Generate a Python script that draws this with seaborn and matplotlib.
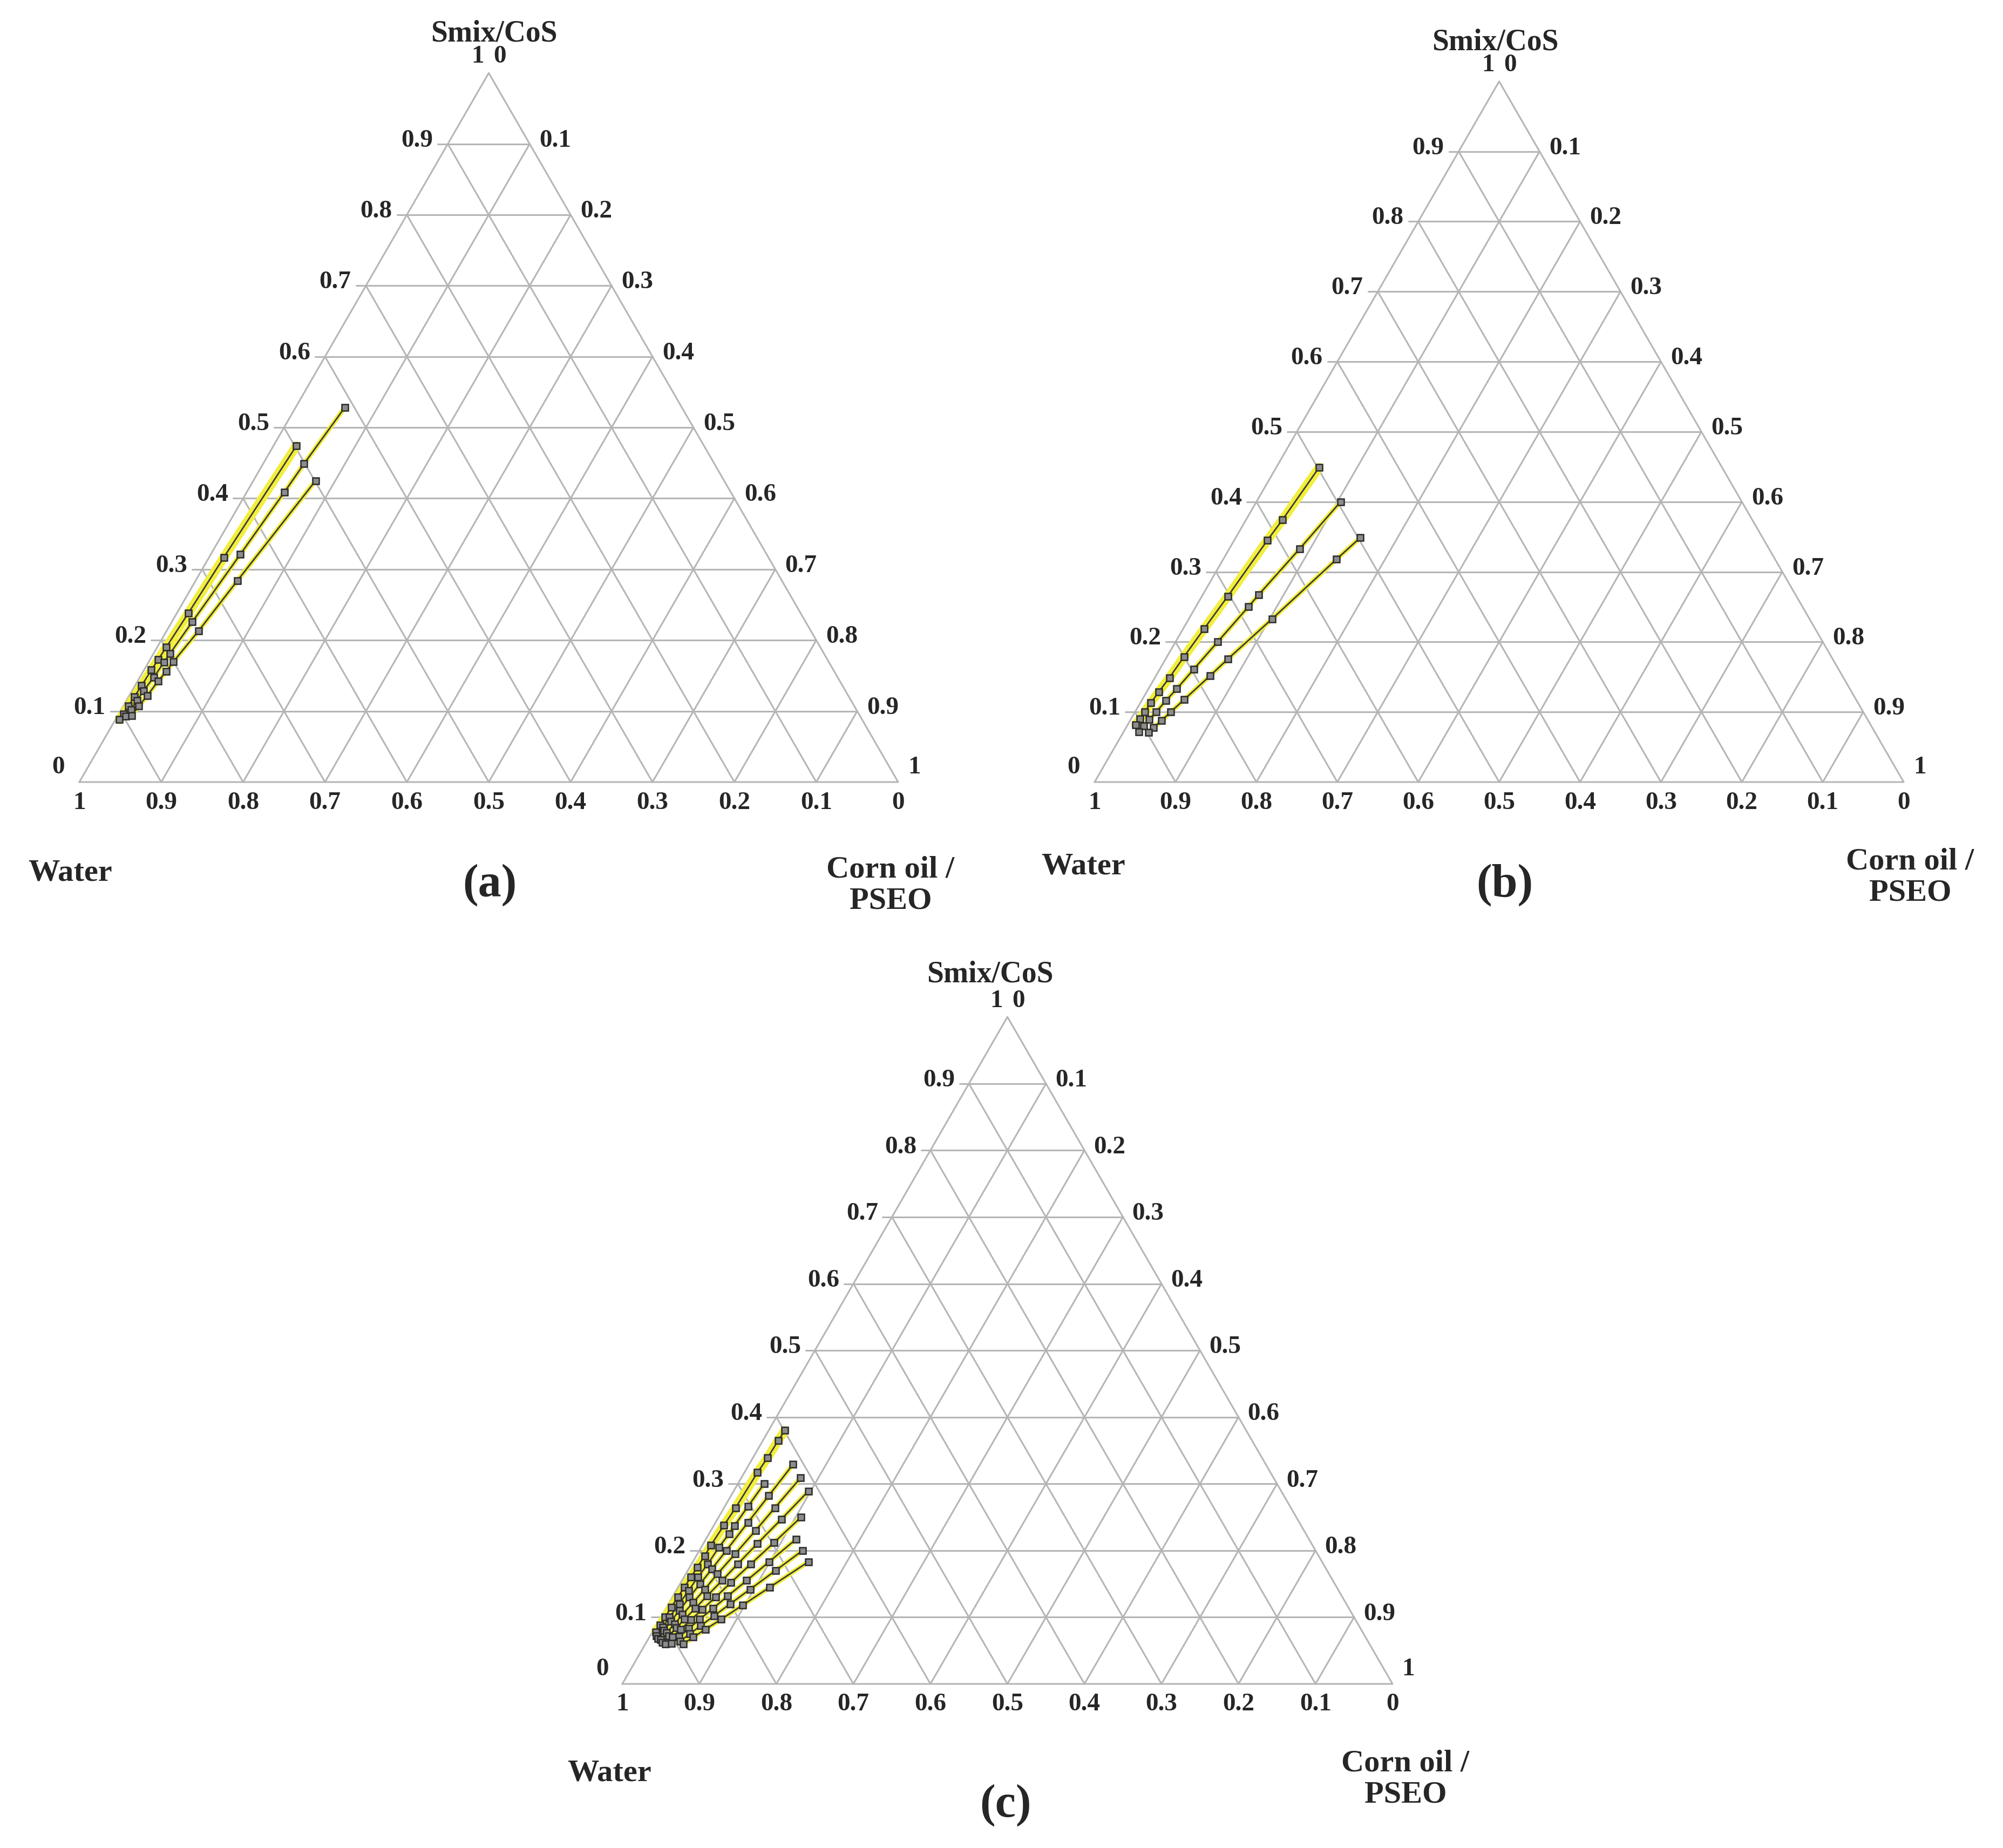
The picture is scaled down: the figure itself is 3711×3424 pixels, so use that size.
import matplotlib
matplotlib.use('Agg')
import matplotlib.pyplot as plt
import seaborn as sns
import numpy as np
import pandas as pd

W, H = 3711, 3424

# titration lines: Smix/CoS fraction and oil fraction per point
a_smix = [
    [0.474, 0.317, 0.238, 0.19, 0.173, 0.158, 0.136, 0.12, 0.107, 0.096, 0.088],
    [0.528, 0.449, 0.409, 0.321, 0.226, 0.181, 0.169, 0.148, 0.129, 0.115, 0.102, 0.093],
    [0.425, 0.284, 0.213, 0.17, 0.156, 0.142, 0.122, 0.107, 0.094],
]
a_oil = [
    [0.028, 0.018, 0.014, 0.011, 0.010, 0.009, 0.008, 0.007, 0.0063, 0.0059, 0.005],
    [0.060, 0.050, 0.046, 0.036, 0.025, 0.020, 0.019, 0.017, 0.014, 0.013, 0.012, 0.010],
    [0.076, 0.051, 0.039, 0.030, 0.028, 0.025, 0.022, 0.019, 0.017],
]
b_smix = [
    [0.449, 0.374, 0.345, 0.265, 0.219, 0.179, 0.149, 0.129, 0.113, 0.1, 0.09, 0.082],
    [0.4, 0.333, 0.267, 0.25, 0.2, 0.161, 0.133, 0.116, 0.1, 0.089, 0.08, 0.072],
    [0.349, 0.318, 0.233, 0.176, 0.152, 0.118, 0.1, 0.088, 0.078, 0.071],
]
b_oil = [
    [0.053, 0.045, 0.041, 0.032, 0.026, 0.021, 0.018, 0.015, 0.013, 0.012, 0.011, 0.010],
    [0.104, 0.087, 0.069, 0.065, 0.052, 0.042, 0.035, 0.030, 0.026, 0.023, 0.021, 0.019],
    [0.154, 0.140, 0.103, 0.077, 0.067, 0.052, 0.044, 0.039, 0.034, 0.031],
]
c_smix = [
    [0.38, 0.365, 0.339, 0.317, 0.264, 0.238, 0.208, 0.192, 0.175, 0.16, 0.145, 0.13, 0.115, 0.1, 0.088, 0.078],
    [0.30, 0.266, 0.237, 0.225, 0.205, 0.18, 0.16, 0.14, 0.12, 0.1, 0.085, 0.072],
    [0.329, 0.282, 0.242, 0.2, 0.172, 0.15, 0.13, 0.11, 0.094, 0.08, 0.068],
    [0.309, 0.264, 0.23, 0.195, 0.165, 0.142, 0.122, 0.104, 0.09, 0.077, 0.066],
    [0.289, 0.247, 0.21, 0.18, 0.155, 0.132, 0.113, 0.097, 0.084, 0.072, 0.062],
    [0.25, 0.212, 0.18, 0.152, 0.13, 0.112, 0.096, 0.082, 0.07, 0.06],
    [0.217, 0.183, 0.155, 0.132, 0.113, 0.097, 0.083, 0.071, 0.061],
    [0.2, 0.17, 0.142, 0.12, 0.102, 0.087, 0.075, 0.064],
    [0.183, 0.145, 0.118, 0.097, 0.082, 0.07, 0.06],
]
c_oil = [
    [0.021, 0.020, 0.019, 0.017, 0.015, 0.013, 0.011, 0.011, 0.010, 0.009, 0.008, 0.007, 0.006, 0.0055, 0.005, 0.0043],
    [0.034, 0.030, 0.027, 0.026, 0.023, 0.021, 0.018, 0.016, 0.014, 0.011, 0.010, 0.008],
    [0.057, 0.049, 0.042, 0.035, 0.030, 0.026, 0.022, 0.019, 0.016, 0.014, 0.012],
    [0.077, 0.066, 0.058, 0.049, 0.041, 0.036, 0.031, 0.026, 0.023, 0.019, 0.017],
    [0.097, 0.083, 0.070, 0.060, 0.052, 0.044, 0.038, 0.032, 0.028, 0.024, 0.021],
    [0.107, 0.091, 0.077, 0.065, 0.056, 0.048, 0.041, 0.035, 0.030, 0.026],
    [0.117, 0.099, 0.084, 0.071, 0.061, 0.052, 0.045, 0.038, 0.033],
    [0.134, 0.114, 0.095, 0.080, 0.068, 0.058, 0.050, 0.043],
    [0.150, 0.119, 0.097, 0.080, 0.067, 0.057, 0.049],
]
ticks = [round(0.1 * i, 1) for i in range(11)]
tick_labels = ['0', '0.1', '0.2', '0.3', '0.4', '0.5', '0.6', '0.7', '0.8', '0.9', '1']

# panel geometry: left vertex (px), side length (px), panel letter
panels = [
    dict(L=(147, 1449), side=1517, letter='(a)', smix=a_smix, oil=a_oil,
         title=(915, 62), water=(130, 1617), corn=(1650, 1640), tag=(907, 1640)),
    dict(L=(2028, 1449), side=1499, letter='(b)', smix=b_smix, oil=b_oil,
         title=(2770, 78), water=(2007, 1605), corn=(3539, 1625), tag=(2788, 1640)),
    dict(L=(1153, 3120), side=1427, letter='(c)', smix=c_smix, oil=c_oil,
         title=(1834, 1805), water=(1129, 3285), corn=(2604, 3297), tag=(1863, 3345)),
]

sns.set_style("white")
plt.rcParams['font.family'] = ['Liberation Serif', 'DejaVu Serif']

fig = plt.figure(figsize=(W / 200, H / 200), dpi=200)
ax = fig.add_axes([0, 0, 1, 1])
ax.set_xlim(0, W)
ax.set_ylim(H, 0)
ax.axis('off')

R3 = np.sqrt(3) / 2
GRID = '#b5b5b5'
tfs = 17


def make_xy(p):
    Lx, Ly = p['L']
    s = p['side']
    def f(smix, oil):
        smix = np.asarray(smix, float)
        oil = np.asarray(oil, float)
        return Lx + (oil + smix / 2) * s, Ly - smix * R3 * s
    return f


for p in panels:
    xy = make_xy(p)
    s = p['side']
    # grid
    for t in ticks[1:-1]:
        x, y = xy([t, t], [0, 1 - t])          # constant smix
        ax.plot([x[0] - 0.012 * s, x[1]], y, color=GRID, lw=1.1)
        x, y = xy([0, 1 - t], [t, t])          # constant oil
        ax.plot(x, y, color=GRID, lw=1.1)
        x, y = xy([0, 1 - t], [1 - t, 0])      # constant water
        ax.plot(x, y, color=GRID, lw=1.1)
    x, y = xy([0, 1, 0, 0], [0, 0, 1, 0])
    ax.plot(x, y, color=GRID, lw=1.1)

    # tick labels
    for t, lab in zip(ticks, tick_labels):
        if 0 < t < 1:
            x, y = xy(t, 0)
            ax.text(x - 0.018 * s, y - 0.004 * s, lab, ha='right', va='center',
                    fontsize=tfs, fontweight='bold')
            x, y = xy(1 - t, t)
            ax.text(x + 0.012 * s, y - 0.004 * s, lab, ha='left', va='center',
                    fontsize=tfs, fontweight='bold')
        x, y = xy(0, 1 - t)
        ax.text(x, y + 0.012 * s, lab, ha='center', va='top', fontsize=tfs, fontweight='bold')
    x, y = xy(0, 0)
    ax.text(x - 0.018 * s, y - 0.004 * s, '0', ha='right', va='bottom', fontsize=tfs, fontweight='bold')
    x, y = xy(0, 1)
    ax.text(x + 0.012 * s, y - 0.004 * s, '1', ha='left', va='bottom', fontsize=tfs, fontweight='bold')
    x, y = xy(1, 0)
    ax.text(x - 0.006 * s, y - 0.006 * s, '1', ha='right', va='bottom', fontsize=tfs, fontweight='bold')
    ax.text(x + 0.006 * s, y - 0.006 * s, '0', ha='left', va='bottom', fontsize=tfs, fontweight='bold')

    # titration lines
    for i, (sm, oi) in enumerate(zip(p['smix'], p['oil'])):
        x, y = xy(sm, oi)
        ax.plot(x, y, color='#f2ee3a', lw=6 if i == 0 else 3.2, solid_capstyle='round', zorder=3)
        df = pd.DataFrame({'x': x, 'y': y})
        sns.lineplot(data=df, x='x', y='y', sort=False, ax=ax, color='#3a3a3a', lw=1.0,
                     marker='s', markersize=4, markerfacecolor='#8c8c8c',
                     markeredgecolor='#2a2a2a', markeredgewidth=0.9, zorder=4)

    # titles
    ax.text(*p['title'], 'Smix/CoS', ha='center', va='center', fontsize=20, fontweight='bold')
    ax.text(*p['water'], 'Water', ha='center', va='center', fontsize=21, fontweight='bold')
    ax.text(*p['corn'], 'Corn oil /\nPSEO', ha='center', va='center', fontsize=21,
            fontweight='bold', linespacing=1.15)
    ax.text(*p['tag'], p['letter'], ha='center', va='center', fontsize=31, fontweight='bold')

ax.set_xlim(0, W)
ax.set_ylim(H, 0)
fig.savefig('out.png', dpi=200)
